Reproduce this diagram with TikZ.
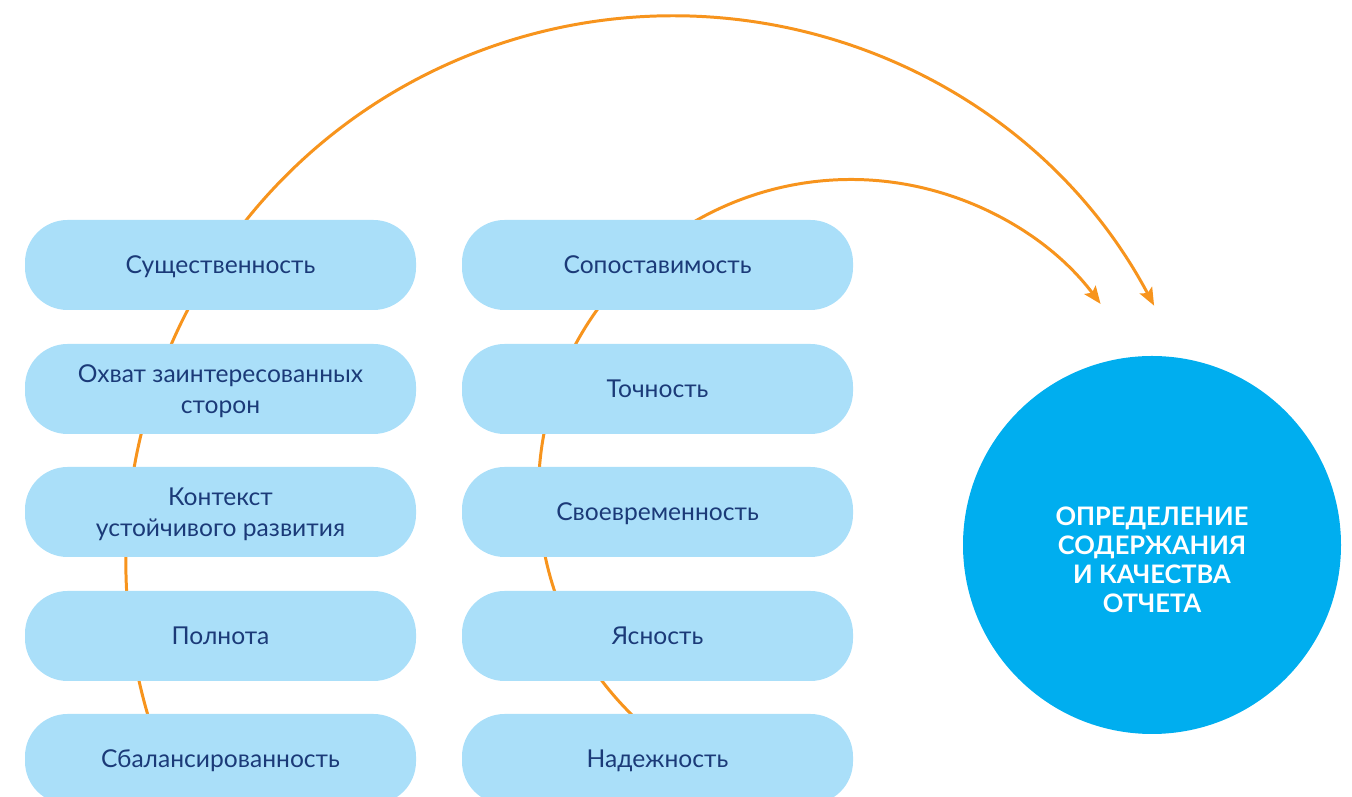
\documentclass[tikz,border=0pt]{standalone}
\usepackage{fontspec}
\setmainfont{Lato}
\usepackage{tikz}
\usetikzlibrary{positioning}
\usetikzlibrary{calc,arrows.meta}
\definecolor{pillblue}{HTML}{AADFF9}
\definecolor{navy}{HTML}{1B3A78}
\definecolor{skyblue}{HTML}{00AEEF}
\definecolor{arcorange}{HTML}{F7941D}
\tikzstyle{pill}=[rectangle, rounded corners=0.85cm, fill=pillblue, minimum width=7.82cm, minimum height=1.8cm, text=navy, text depth=0pt, font=\fontsize{14}{17.5}\selectfont, align=center]
\tikzstyle{arc}=[draw=arcorange, line width=1.7pt, -{Stealth[length=10pt,width=8pt,inset=2pt]}]

\begin{document}
\begin{tikzpicture}
	\useasboundingbox (0,0) rectangle (27.04,15.94);
	\clip (0,0) rectangle (27.04,15.94);
	% arcs behind the boxes
	\coordinate (bigc) at (13.44,4.70);
	\coordinate (smallc) at (17.02,6.1);
	\coordinate (outerstart) at ($(bigc)+(200:10.92)$);
	\coordinate (innerstart) at ($(smallc)+(230:6.25)$);
	\draw [arc] (outerstart) arc[start angle=200, end angle=28.0, radius=10.92];
	\draw [arc] (innerstart) arc[start angle=230, end angle=37, radius=6.25];
	% left column
	\node[pill] (sush) at (4.41,10.64) {Существенность};
	\node[pill] (ohvat) at (4.41,8.16) {Охват заинтересованных\\сторон};
	\node[pill] (kontekst) at (4.41,5.70) {Контекст\\устойчивого развития};
	\node[pill] (polnota) at (4.41,3.22) {Полнота};
	\node[pill] (balans) at (4.41,0.76) {Сбалансированность};
	% right column
	\node[pill] (sopost) at (13.15,10.64) {Сопоставимость};
	\node[pill] (tochn) at (13.15,8.16) {Точность};
	\node[pill] (svoevr) at (13.15,5.70) {Своевременность};
	\node[pill] (yasn) at (13.15,3.22) {Ясность};
	\node[pill] (nadezh) at (13.15,0.76) {Надежность};
	% target circle
	\node[circle, fill=skyblue, minimum size=7.56cm,
		label={[text=white, align=center, yshift=-0.3cm, font=\bfseries\fontsize{14.5}{16.6}\selectfont]center:ОПРЕДЕЛЕНИЕ\\СОДЕРЖАНИЯ\\И КАЧЕСТВА\\ОТЧЕТА}] (opred) at (23.04,5.04) {};
\end{tikzpicture}
\end{document}
